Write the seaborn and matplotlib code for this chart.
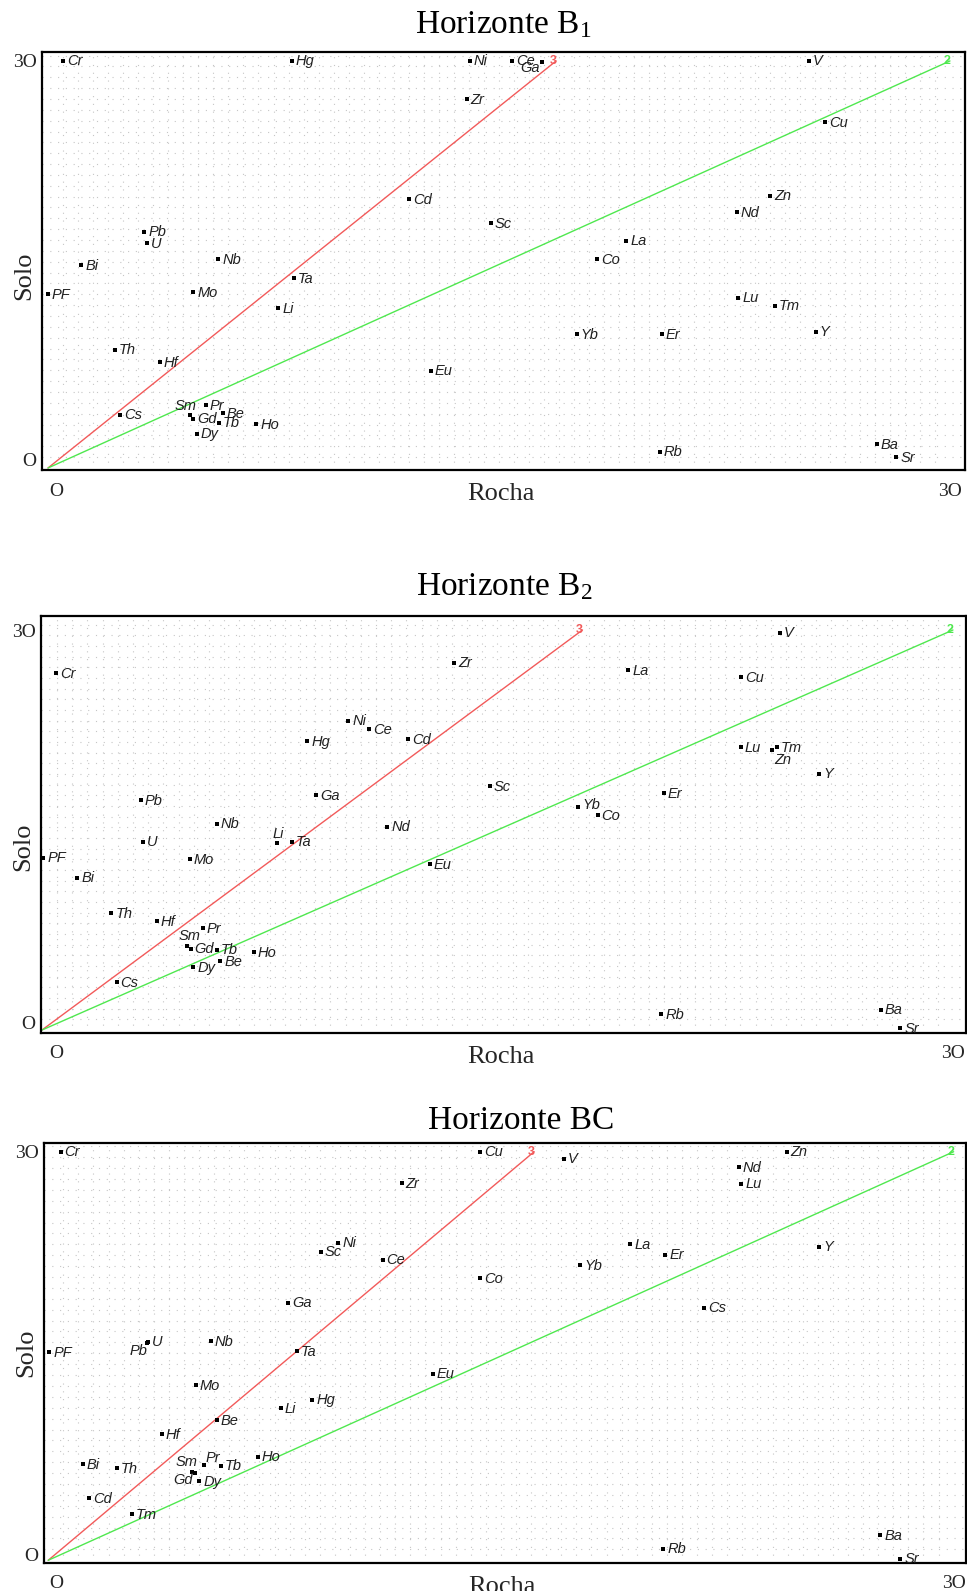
import matplotlib
matplotlib.use("Agg")
import matplotlib.pyplot as plt
import pandas as pd
import seaborn as sns
from matplotlib.ticker import MultipleLocator, FixedLocator
from matplotlib.transforms import ScaledTranslation

# ---------------- data ----------------
ELEMENTS = ["Cr", "Hg", "Ni", "Ce", "Ga", "V", "Zr", "Cu", "Cd", "Sc", "Zn", "Nd", "La",
            "Co", "Pb", "U", "Bi", "Nb", "PF", "Mo", "Ta", "Li", "Lu", "Tm", "Th", "Hf",
            "Yb", "Er", "Y", "Eu", "Cs", "Sm", "Pr", "Be", "Gd", "Tb", "Ho", "Dy", "Rb",
            "Ba", "Sr"]

ROCHA_B1 = [0.51, 8.10, 14.03, 15.44, 16.42, 25.31, 13.92, 25.86, 12.02, 14.72, 24.01, 22.90, 19.24,
            18.25, 3.20, 3.28, 1.10, 5.66, 0.00, 4.83, 8.18, 7.66, 22.96, 24.18, 2.23, 3.72,
            17.58, 20.41, 25.54, 12.73, 2.39, 4.72, 5.24, 5.81, 4.83, 5.69, 6.92, 4.94, 20.35,
            27.56, 28.22]
SOLO_B1 = [30.0, 30.0, 30.0, 30.0, 29.9, 30.0, 27.19, 25.50, 19.80, 18.03, 20.07, 18.84, 16.75,
           15.38, 17.41, 16.56, 14.96, 15.38, 12.82, 12.94, 13.98, 11.76, 12.55, 11.94, 8.70, 7.81,
           9.85, 9.87, 10.04, 7.17, 3.91, 3.91, 4.64, 4.03, 3.61, 3.34, 3.22, 2.51, 1.20,
           1.75, 0.79]

ROCHA_B2 = [0.48, 8.74, 10.09, 10.77, 9.02, 24.30, 13.57, 23.02, 12.07, 14.75, 24.03, 11.37, 19.31,
            18.30, 3.25, 3.34, 1.16, 5.75, 0.04, 4.87, 8.24, 7.73, 23.02, 24.21, 2.29, 3.78,
            17.66, 20.48, 25.60, 12.78, 2.46, 4.79, 5.29, 5.88, 4.90, 5.75, 6.98, 4.98, 20.40,
            27.62, 28.27]
SOLO_B2 = [26.74, 21.64, 23.19, 22.56, 17.59, 29.8, 27.56, 26.44, 21.81, 18.28, 20.97, 15.25, 26.99,
           16.10, 17.22, 14.13, 11.44, 15.47, 12.93, 12.81, 14.13, 14.00, 21.22, 21.22, 8.75, 8.16,
           16.72, 17.74, 19.23, 12.44, 3.60, 6.32, 7.63, 5.15, 6.10, 6.02, 5.84, 4.72, 1.19,
           1.54, 0.13]

ROCHA_BC = [0.41, 8.75, 9.61, 11.08, 7.94, 17.09, 11.71, 14.31, 1.35, 9.04, 24.47, 22.89, 19.28,
            14.31, 3.26, 3.29, 1.14, 5.38, 0.03, 4.89, 8.23, 7.71, 22.96, 2.78, 2.27, 3.76,
            17.62, 20.44, 25.55, 12.74, 21.74, 4.77, 5.17, 5.58, 4.86, 5.72, 6.94, 5.00, 20.38,
            27.57, 28.23]
SOLO_BC = [30.0, 11.77, 23.30, 22.05, 18.92, 29.5, 27.70, 30.0, 4.55, 22.65, 30.0, 28.85, 23.20,
           20.70, 15.97, 16.04, 7.05, 16.08, 15.27, 12.84, 15.35, 11.18, 27.63, 3.39, 6.76, 9.26,
           21.68, 22.42, 23.04, 13.71, 18.54, 6.46, 7.00, 10.27, 6.39, 6.95, 7.61, 5.82, 0.86,
           1.84, 0.13]

TITLES = ["Horizonte B$_1$", "Horizonte B$_2$", "Horizonte BC"]
LINE3_END_X = [16.9, 17.8, 16.1]
LINE2_END_X = [30.0, 30.0, 30.0]
LINE_END_Y = [30.0, 30.0, 30.0]
LINE_NAMES = ["3", "2"]
TICK_VALUES = [0, 30]
TICK_LABELS = ["O", "3O"]
X_LABEL = "Rocha"
Y_LABEL = "Solo"

PANELS = [(ROCHA_B1, SOLO_B1), (ROCHA_B2, SOLO_B2), (ROCHA_BC, SOLO_BC)]

# ---------------- style / layout ----------------
sns.set_theme(style="white")
plt.rcParams["font.family"] = ["Liberation Serif", "DejaVu Serif"]
plt.rcParams["mathtext.fontset"] = "custom"
plt.rcParams["mathtext.rm"] = "Liberation Serif"
plt.rcParams["mathtext.it"] = "Liberation Serif:italic"

W, H = 967, 1591
fig = plt.figure(figsize=(W / 100, H / 100), dpi=100)

BOXES = [(42, 965, 52, 470), (41, 966, 616, 1033), (44, 966, 1143, 1563)]  # l, r, t, b px
XLIMS = [(-0.2, 30.5), (-0.03, 30.43), (-0.14, 30.41)]
YLIMS = [(-0.15, 30.66), (-0.22, 31.05), (-0.2, 30.64)]
TITLE_POS = [(503, 33), (504, 595), (521, 1129)]
SOLO_Y = [0.464, 0.446, 0.50]
XZERO_SHIFT = [8, 14, 8]   # px shift of the "O" x tick label
YZERO_SHIFT = [8, 8, 6]    # px shift up of the "O" y tick label

OFFSETS = [
    {"Ga": (-2, -10, "right"), "Sm": (7, 5, "right")},
    {"Zn": (3, -14, "left"), "Li": (-4, 5, "left"), "Sm": (13, 6, "right"), "Yb": (4, -2, "left")},
    {"Pb": (1, -12, "right"), "Pr": (1, 3, "left"), "Sm": (5, 6, "right"), "Gd": (-2, -11, "right")},
]
DEFAULT_OFF = (4, -4.5, "left")
RED = "#f25a5a"
GREEN = "#4fe84f"

for i, (rocha, solo) in enumerate(PANELS):
    l, r, t, b = BOXES[i]
    ax = fig.add_axes([l / W, 1 - b / H, (r - l) / W, (b - t) / H])
    df = pd.DataFrame({"Elemento": ELEMENTS, "Rocha": rocha, "Solo": solo})

    # grid of dots
    ax.xaxis.set_minor_locator(MultipleLocator(0.5))
    ax.yaxis.set_minor_locator(MultipleLocator(0.8))
    ax.grid(which="minor", color="#c6c6c6", linestyle=(0, (1, 6)), linewidth=0.8)
    ax.grid(which="major", visible=False)
    ax.set_axisbelow(True)

    # reference lines
    lines = pd.DataFrame({
        "x": [0, LINE3_END_X[i], 0, LINE2_END_X[i]],
        "y": [0, LINE_END_Y[i], 0, LINE_END_Y[i]],
        "linha": [LINE_NAMES[0], LINE_NAMES[0], LINE_NAMES[1], LINE_NAMES[1]],
    })
    sns.lineplot(data=lines, x="x", y="y", hue="linha", palette={"3": RED, "2": GREEN},
                 estimator=None, sort=False, linewidth=1.0, legend=False, ax=ax)
    for name, ex, col in [(LINE_NAMES[0], LINE3_END_X[i], RED), (LINE_NAMES[1], LINE2_END_X[i], GREEN)]:
        ax.annotate(name, (ex, LINE_END_Y[i]), xytext=(-3, 0), textcoords="offset pixels",
                    ha="center", va="center", fontsize=9, fontweight="bold", color=col,
                    family="Liberation Sans")

    # points
    sns.scatterplot(data=df, x="Rocha", y="Solo", marker="s", s=5, color="black",
                    linewidth=0, ax=ax, zorder=5)
    for name, x, y in zip(ELEMENTS, rocha, solo):
        dx, dy, ha = OFFSETS[i].get(name, DEFAULT_OFF)
        ax.annotate(name, (x, y), xytext=(dx, dy), textcoords="offset pixels", ha=ha,
                    va="baseline", fontsize=10.5, fontstyle="italic", family="Liberation Sans",
                    color="#202020", annotation_clip=False, clip_on=True, zorder=6)

    ax.set_xlim(*XLIMS[i])
    ax.set_ylim(*YLIMS[i])
    ax.xaxis.set_major_locator(FixedLocator(TICK_VALUES))
    ax.yaxis.set_major_locator(FixedLocator(TICK_VALUES))
    ax.set_xticklabels(TICK_LABELS)
    ax.set_yticklabels(TICK_LABELS)
    ax.tick_params(axis="both", which="both", length=0, labelsize=14)
    ax.tick_params(axis="x", pad=9)
    ax.tick_params(axis="y", pad=4)

    xt0 = ax.xaxis.get_major_ticks()[0].label1
    xt0.set_transform(xt0.get_transform() + ScaledTranslation(XZERO_SHIFT[i] / 100, 0, fig.dpi_scale_trans))
    yt0 = ax.yaxis.get_major_ticks()[0].label1
    yt0.set_transform(yt0.get_transform() + ScaledTranslation(0, YZERO_SHIFT[i] / 100, fig.dpi_scale_trans))

    ax.set_xlabel(X_LABEL, fontsize=19)
    ax.set_ylabel(Y_LABEL, fontsize=19)
    ax.xaxis.set_label_coords(0.497, -0.058)
    ax.xaxis.label.set_verticalalignment("center")
    ax.yaxis.set_label_coords(-0.0195, SOLO_Y[i])
    ax.yaxis.label.set_verticalalignment("center")

    for sp in ax.spines.values():
        sp.set_visible(True)
        sp.set_color("black")
        sp.set_linewidth(1.6)

    tx, ty = TITLE_POS[i]
    fig.text(tx / W, 1 - ty / H, TITLES[i], ha="center", va="baseline", fontsize=24,
             color="black")

fig.savefig("out.png", dpi=100, facecolor="white")
